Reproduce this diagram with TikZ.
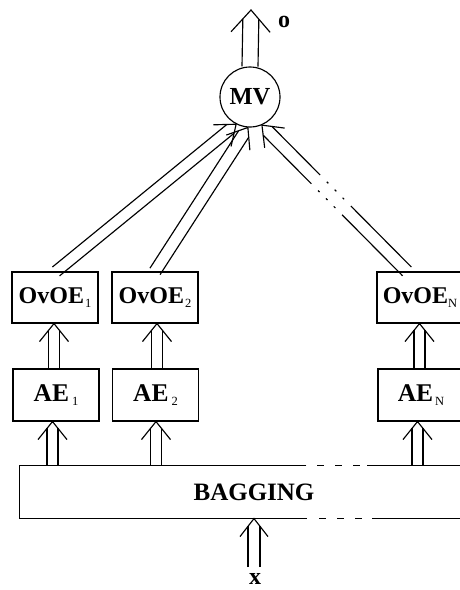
\documentclass[tikz,border=0pt]{standalone}
\usepackage{fontspec}
\setmainfont{Liberation Serif}
\usetikzlibrary{calc}
% double-line arrow: [line opts]{start}{tip}{half gap}{head length}{head half width}
\newcommand\dblarr[6][]{%
  \path (#2) coordinate (da-s) (#3) coordinate (da-e);
  \path ($(da-e)!{#4*#5/#6*1pt}!(da-s)$) coordinate (da-m)
        ($(da-e)!#5pt!(da-s)$) coordinate (da-b);
  \draw[#1] ($(da-s)!#4pt!90:(da-e)$) -- ($(da-m)!#4pt!-90:(da-s)$);
  \draw[#1] ($(da-s)!#4pt!-90:(da-e)$) -- ($(da-m)!#4pt!90:(da-s)$);
  \draw ($(da-b)!#6pt!-90:(da-s)$) -- (da-e) -- ($(da-b)!#6pt!90:(da-s)$);
}
\newcommand\sbx[1]{{\mdseries\fontsize{12.5}{12.5}\selectfont\raisebox{-3.5pt}{#1}}}
\begin{document}
\begin{tikzpicture}[x=1pt,y=-1pt,line width=1.15pt,
  ovbox/.style={draw,minimum width=86pt,minimum height=51pt,inner sep=0pt,
    font=\bfseries\fontsize{24}{24}\selectfont},
  aebox/.style={draw,minimum width=86pt,minimum height=52pt,inner sep=0pt,
    font=\bfseries\fontsize{25.5}{25.5}\selectfont},
  lbl/.style={anchor=base,inner sep=0pt,font=\bfseries\fontsize{24}{24}\selectfont}]
\useasboundingbox (0,0) rectangle (460,590);
\clip (0,0) rectangle (460,590);

% nodes
\node[circle,draw,minimum size=60pt,inner sep=0pt,
  font=\bfseries\fontsize{24.5}{24.5}\selectfont] (mv) at (250,97) {MV};
\node[ovbox] (ov1) at (55,297.5) {OvOE\kern1pt\sbx{1}};
\node[ovbox] (ov2) at (155,297.5) {OvOE\kern1pt\sbx{2}};
\node[ovbox] (ovN) at (420,297.5) {OvOE\sbx{N}};
\node[aebox] (ae1) at (56,395) {AE\kern3pt\sbx{1}};
\node[aebox] (ae2) at (155.5,395) {AE\kern3pt\sbx{2}};
\node[aebox] (aeN) at (421,395) {AE\kern2pt\sbx{N}};
\node[minimum width=468pt,minimum height=52pt,inner sep=0pt,
  font=\bfseries\fontsize{25}{25}\selectfont] (bag) at (254,492) {BAGGING};
\coordinate (out) at (251,10);
\coordinate (xin) at (254,567);
\node[lbl] (lo) at (284,27) {o};
\node[lbl] (lx) at (255,584) {x};

% bagging outline with broken part
\draw ($(bag.north west)+(287,0)$) -- (bag.north west) -- (bag.south west) -- ++(288,0);
\draw[dash pattern=on 7pt off 11pt] ($(bag.north west)+(298,0)$) -- ++(43,0);
\draw ($(bag.north west)+(348,0)$) -- (bag.north east);
\draw[dash pattern=on 7pt off 11pt] ($(bag.south west)+(300,0)$) -- ++(43,0);
\draw ($(bag.south west)+(353,0)$) -- (bag.south east);

% input and output
\dblarr{xin}{bag.south}{6}{18}{14}
\dblarr{mv.north}{out}{8}{22}{19.5}

% bagging -> AE
\dblarr{$(bag.north -| ae1.south)+(-3.5,0)$}{$(ae1.south)+(-3.5,0)$}{5.5}{18}{14.5}
\dblarr{$(bag.north -| ae2.south)+(0.5,0)$}{$(ae2.south)+(0.5,0)$}{5.5}{18}{14.5}
\dblarr{$(bag.north -| aeN.south)+(-3.5,0)$}{$(aeN.south)+(-3.5,0)$}{5.5}{18}{14.5}

% AE -> OvOE
\dblarr{$(ae1.north)+(-2,0)$}{$(ae1.north |- ov1.south)+(-2,0)$}{5.5}{18}{14.5}
\dblarr{$(ae2.north)+(1.5,0)$}{$(ae2.north |- ov2.south)+(1.5,0)$}{5.5}{18}{14.5}
\dblarr{$(aeN.north)+(-1.5,0)$}{$(aeN.north |- ovN.south)+(-1.5,0)$}{5.5}{18}{14.5}

% OvOE -> MV
\dblarr{$(ov1.north)+(1,0)$}{mv.-117}{5.7}{18}{14}
\dblarr{ov2.north}{mv.-94}{6}{18}{14}
\dblarr[dash pattern=on 86pt off 9.5pt on 2.2pt off 9pt on 2.2pt off 9pt on 2.2pt off 9.5pt on 300pt]{$(ovN.north)+(-13,0)$}{mv.-67}{6.2}{18}{14}
\end{tikzpicture}
\end{document}
